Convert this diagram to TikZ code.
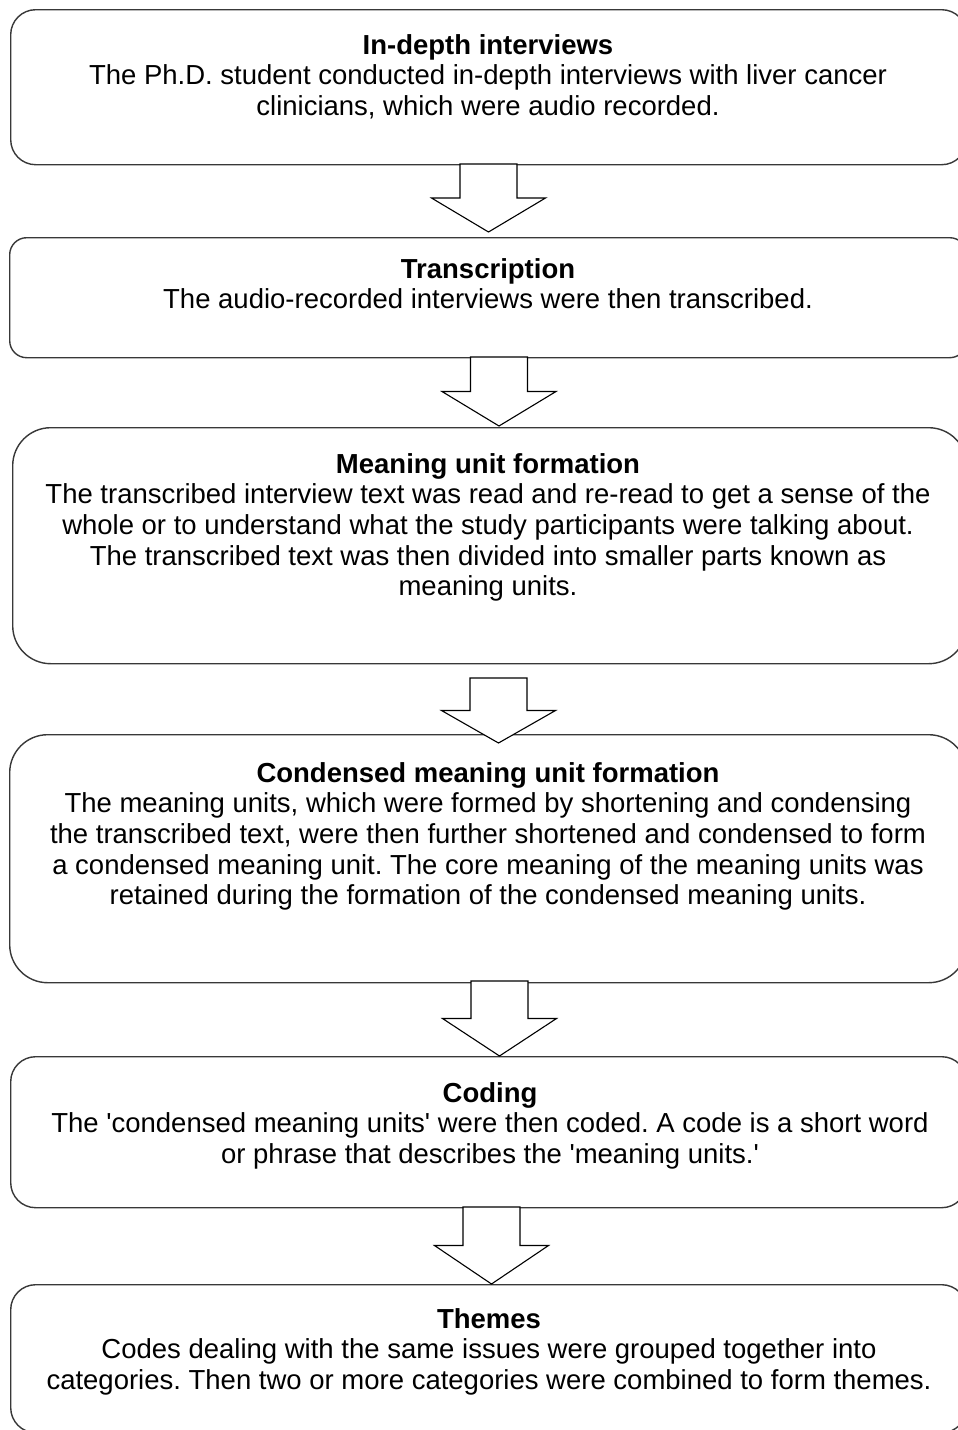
\documentclass[tikz,border=0pt]{standalone}
\usepackage{fontspec}
\setmainfont{Liberation Sans}
\usetikzlibrary{calc}
\frenchspacing

% hollow block arrow between two named points (shaft top to tip)
\newcommand\blockarrow[2]{%
  \draw[blockarrow]
    ($(#1)+(-28.5,0)$) --
    ($(#1)!.5!(#2)+(-28.5,0)$) --
    ($(#1)!.5!(#2)+(-57,0)$) --
    (#2) --
    ($(#1)!.5!(#2)+(57,0)$) --
    ($(#1)!.5!(#2)+(28.5,0)$) --
    ($(#1)+(28.5,0)$) -- cycle;}

\begin{document}
\begin{tikzpicture}[x=0.5pt,y=-0.5pt,
  stage/.style={draw=black!78, line width=0.7pt, anchor=north west,
    inner sep=0pt, fill=white},
  stagetext/.style={anchor=north, align=center, inner sep=0pt,
    font=\fontsize{13.75}{15.3}\selectfont},
  blockarrow/.style={draw=black, fill=white, line width=0.55pt,
    line join=miter}]
\useasboundingbox (0,0) rectangle (958,1430);
\clip (0,0) rectangle (958,1430);

% stage boxes (they run past the right and bottom edges)
\node[stage, minimum width=478pt, minimum height=77.5pt, rounded corners=12.5pt] (b1) at (10,9) {};
\node[stage, minimum width=478.5pt, minimum height=60pt, rounded corners=8.5pt] (b2) at (9,237) {};
\node[stage, minimum width=477pt, minimum height=118pt, rounded corners=19pt] (b3) at (12,427) {};
\node[stage, minimum width=478.5pt, minimum height=124pt, rounded corners=19pt] (b4) at (9,734) {};
\node[stage, minimum width=478pt, minimum height=75.5pt, rounded corners=12.5pt] (b5) at (10,1056) {};
\node[stage, minimum width=478pt, minimum height=74pt, rounded corners=12.5pt] (b6) at (10,1284) {};

% stage texts
\node[stagetext] (t1) at (488,34) {\textbf{In-depth interviews}\\
  The Ph.D. student conducted in-depth interviews with liver cancer\\
  clinicians, which were audio recorded.};
\node[stagetext] (t2) at (488,258) {\textbf{Transcription}\\
  The audio-recorded interviews were then transcribed.};
\node[stagetext] (t3) at (488,453) {\textbf{Meaning unit formation}\\
  The transcribed interview text was read and re-read to get a sense of the\\
  whole or to understand what the study participants were talking about.\\
  The transcribed text was then divided into smaller parts known as\\
  meaning units.};
\node[stagetext] (t4) at (488,762) {\textbf{Condensed meaning unit formation}\\
  The meaning units, which were formed by shortening and condensing\\
  the transcribed text, were then further shortened and condensed to form\\
  a condensed meaning unit. The core meaning of the meaning units was\\
  retained during the formation of the condensed meaning units.};
\node[stagetext] (t5) at (490,1082) {\textbf{Coding}\\
  The \textquotesingle condensed meaning units\textquotesingle\ were then coded. A code is a short word\\
  or phrase that describes the \textquotesingle meaning units.\textquotesingle};
\node[stagetext] (t6) at (489,1308) {\textbf{Themes}\\
  Codes dealing with the same issues were grouped together into\\
  categories. Then two or more categories were combined to form themes.};

% arrow end points
\coordinate (a1s) at (488.5,164);  \coordinate (a1e) at (488.5,232);
\coordinate (a2s) at (499,357);    \coordinate (a2e) at (499,426);
\coordinate (a3s) at (498.5,678);  \coordinate (a3e) at (498.5,743);
\coordinate (a4s) at (499.5,981);  \coordinate (a4e) at (499.5,1056);
\coordinate (a5s) at (491.5,1207); \coordinate (a5e) at (491.5,1284);

\blockarrow{a1s}{a1e}
\blockarrow{a2s}{a2e}
\blockarrow{a3s}{a3e}
\blockarrow{a4s}{a4e}
\blockarrow{a5s}{a5e}
\end{tikzpicture}
\end{document}
